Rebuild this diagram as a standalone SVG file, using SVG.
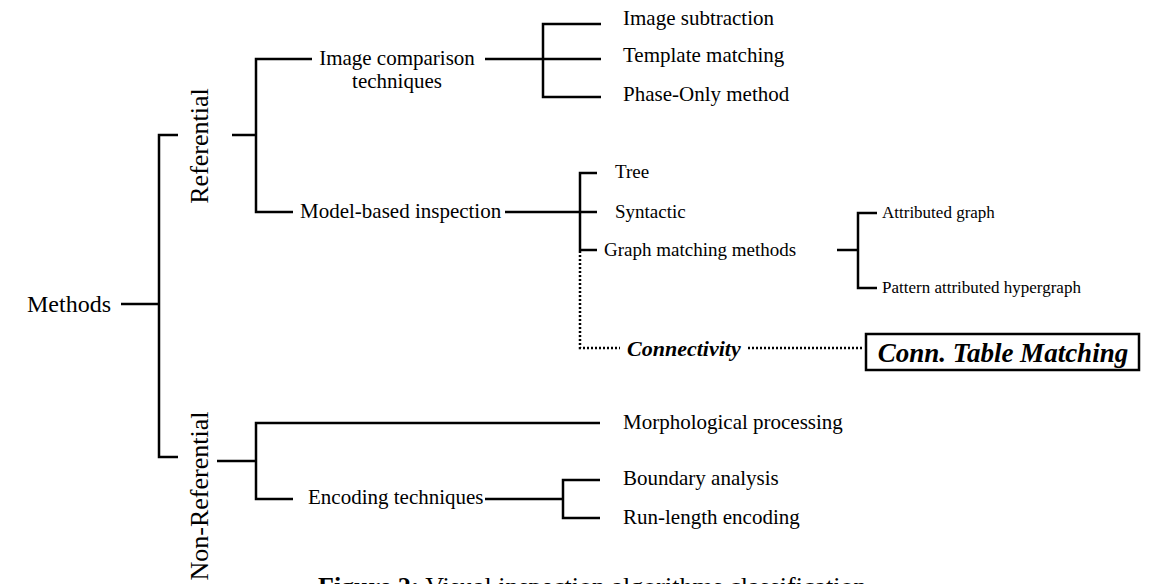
<svg xmlns="http://www.w3.org/2000/svg" width="1151" height="584" viewBox="0 0 1151 584">
<style>
text{font-family:"Liberation Serif","Times New Roman",serif;fill:#000}
.big{font-size:24px}
.rot{font-size:26px}
.t21{font-size:21px}
.t19{font-size:19px}
.t17{font-size:17px}
.bi{font-size:22px;font-weight:bold;font-style:italic}
.bi2{font-size:27px;font-weight:bold;font-style:italic}
.cap{font-size:26px}
.ln{fill:none;stroke:#000;stroke-width:2.5;stroke-linecap:butt;stroke-linejoin:miter}
.dot{fill:none;stroke:#000;stroke-width:2.5;stroke-dasharray:2 2}
</style>
<rect width="1151" height="584" fill="#fff"/>
<g id="connectors">
<path class="ln" d="M121 304H159M178 135H159V457H178"/>
<path class="ln" d="M232 135H256M312 59H256V212H293"/>
<path class="ln" d="M485 59H601M601 24H543V97H601"/>
<path class="ln" d="M505 212H597M597 173H580V250H597"/>
<path class="ln" d="M837 250H858M877 213H858V288H877"/>
<path class="dot" d="M580 251V348H620M748 348H863"/>
<path class="ln" d="M217 461H256M600 423H256V499H293"/>
<path class="ln" d="M485 499H563M600 480H563V518H600"/>
</g>
<g id="methods"><text class="big" x="27" y="312">Methods</text></g>
<g id="referential"><text class="rot" text-anchor="middle" transform="translate(208,146) rotate(-90)">Referential</text></g>
<g id="non-referential"><text class="rot" text-anchor="middle" transform="translate(208,496) rotate(-90)">Non-Referential</text></g>
<g id="image-comparison"><text class="t21" text-anchor="middle" x="397" y="65">Image comparison</text><text class="t21" text-anchor="middle" x="397" y="88">techniques</text></g>
<g id="image-subtraction"><text class="t21" x="623" y="25">Image subtraction</text></g>
<g id="template-matching"><text class="t21" x="623" y="62">Template matching</text></g>
<g id="phase-only"><text class="t21" x="623" y="101">Phase-Only method</text></g>
<g id="model-based"><text class="t21" x="300" y="218">Model-based inspection</text></g>
<g id="tree"><text class="t19" x="615" y="178">Tree</text></g>
<g id="syntactic"><text class="t19" x="615" y="218">Syntactic</text></g>
<g id="graph-matching"><text class="t19" x="604" y="256">Graph matching methods</text></g>
<g id="attributed-graph"><text class="t17" x="882" y="218">Attributed graph</text></g>
<g id="pattern-hypergraph"><text class="t17" x="882" y="293">Pattern attributed hypergraph</text></g>
<g id="connectivity"><text class="bi" x="627" y="356">Connectivity</text></g>
<g id="conn-table"><rect x="866" y="334" width="273" height="36" fill="#fff" stroke="#000" stroke-width="2.5"/><text class="bi2" x="1003" y="362" text-anchor="middle">Conn. Table Matching</text></g>
<g id="morphological"><text class="t21" x="623" y="429">Morphological processing</text></g>
<g id="encoding"><text class="t21" x="308" y="504">Encoding techniques</text></g>
<g id="boundary"><text class="t21" x="623" y="485">Boundary analysis</text></g>
<g id="run-length"><text class="t21" x="623" y="524">Run-length encoding</text></g>
<g id="caption"><text class="cap" x="318" y="595"><tspan font-weight="bold">Figure 2:</tspan> Visual inspection algorithms classification</text></g>
</svg>
